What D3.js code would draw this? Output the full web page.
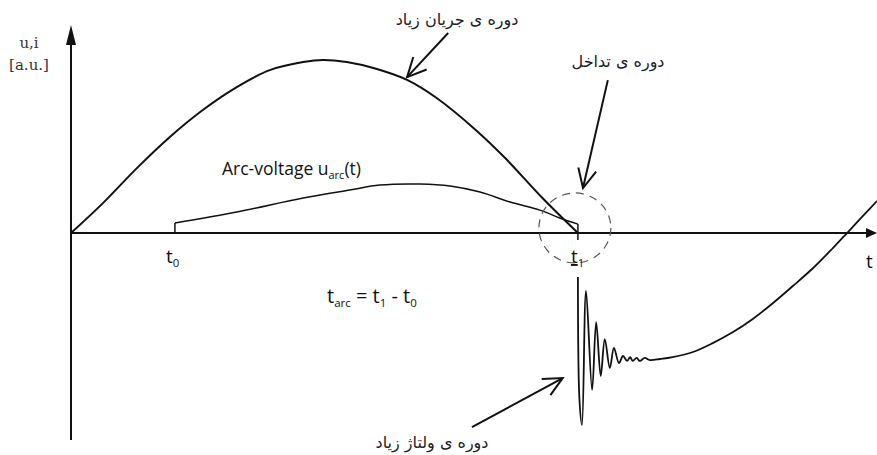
<!DOCTYPE html>
<html><head><meta charset="utf-8">
<script src="https://cdn.jsdelivr.net/npm/d3@7"></script>
<style>
html,body{margin:0;padding:0;background:#fff;}
svg{display:block;}
</style></head>
<body>
<svg id="chart" width="877" height="455"></svg>
<script>
// ---- data (time in a.u., t1 = 1; amplitude in a.u.) ----
const currentT = [0,0.063,0.130,0.195,0.260,0.327,0.392,0.458,0.497,0.544,0.600,0.663,0.722,0.800,0.856,0.930,1.0];
const currentV = [0,0.171,0.371,0.549,0.703,0.834,0.931,0.977,0.989,0.977,0.940,0.875,0.770,0.585,0.430,0.200,0];

const arcT = [0.205,0.205,0.327,0.458,0.550,0.609,0.688,0.748,0.807,0.866,0.925,0.964,1.0,1.0];
const arcV = [0,0.057,0.12,0.20,0.246,0.274,0.28,0.269,0.234,0.177,0.131,0.086,0.051,0];

const recT = [1.000,1.003,1.008,1.016,1.028,1.036,1.045,1.053,1.063,1.071,1.081,1.089,1.097,1.103,1.108,1.116,1.122,1.132,1.142,1.162,1.187,1.227,1.266,1.306,1.345,1.385,1.424,1.464,1.503,1.531,1.566,1.590];
const recV = [-0.251,-0.95,-1.097,-0.331,-0.897,-0.509,-0.817,-0.606,-0.771,-0.657,-0.743,-0.703,-0.731,-0.709,-0.731,-0.714,-0.731,-0.714,-0.726,-0.72,-0.709,-0.68,-0.629,-0.566,-0.491,-0.40,-0.303,-0.20,-0.086,0,0.109,0.183];

const t0 = 0.205, t1 = 1.0;
const xDomain = [0, 1.59];
const yDomain = [-1.183, 1.189];

const svg = d3.select("#chart");
const x = d3.scaleLinear().domain(xDomain).range([71, 877]);
const y = d3.scaleLinear().domain(yDomain).range([440, 25]);

const ink = "#111";

// ---- axes ----
const axes = svg.append("g");
axes.append("line").attr("x1", x(0)).attr("x2", x(0)).attr("y1", y(yDomain[0])).attr("y2", y(yDomain[1]) + 12)
  .attr("stroke", ink).attr("stroke-width", 2);
axes.append("path").attr("d", `M${x(0)},${y(yDomain[1])}L${x(0)-5},${y(yDomain[1])+20}L${x(0)+5},${y(yDomain[1])+20}Z`).attr("fill", ink);
axes.append("line").attr("x1", x(0)).attr("x2", x(xDomain[1]) - 6).attr("y1", y(0)).attr("y2", y(0))
  .attr("stroke", ink).attr("stroke-width", 2);
axes.append("path").attr("d", `M${x(xDomain[1])},${y(0)}L${x(xDomain[1])-11},${y(0)-5}L${x(xDomain[1])-11},${y(0)+5}Z`).attr("fill", ink);

const smooth = d3.line().x(d => x(d[0])).y(d => y(d[1])).curve(d3.curveCatmullRom.alpha(0.5));
const lin = d3.line().x(d => x(d[0])).y(d => y(d[1]));

// ---- current ----
svg.append("path").datum(d3.zip(currentT, currentV))
  .attr("d", smooth).attr("fill", "none").attr("stroke", ink).attr("stroke-width", 2);

// ---- arc voltage ----
const arcPts = d3.zip(arcT, arcV);
svg.append("path").datum(arcPts.slice(1, arcPts.length - 1))
  .attr("d", smooth).attr("fill", "none").attr("stroke", ink).attr("stroke-width", 1.5);
svg.append("path").datum(arcPts.slice(0, 2)).attr("d", lin).attr("stroke", ink).attr("stroke-width", 1.5);
svg.append("path").datum(arcPts.slice(arcPts.length - 2)).attr("d", lin).attr("stroke", ink).attr("stroke-width", 1.5);
svg.append("line").attr("x1", x(t1)).attr("x2", x(t1)).attr("y1", y(0)).attr("y2", y(0) + 7).attr("stroke", ink).attr("stroke-width", 1.5);

// ---- recovery voltage ----
svg.append("path").datum(d3.zip(recT, recV))
  .attr("d", smooth).attr("fill", "none").attr("stroke", ink).attr("stroke-width", 1.8);

// ---- dashed circle at t1 ----
const circC = [0.994, 0.029], circR = [0.071, 0.2];
svg.append("ellipse").attr("cx", x(circC[0])).attr("cy", y(circC[1]))
  .attr("rx", x(circR[0]) - x(0)).attr("ry", y(0) - y(circR[1]))
  .attr("fill", "none").attr("stroke", "#555").attr("stroke-width", 1.2).attr("stroke-dasharray", "8,6");

// ---- annotation arrows (data units) ----
const arrows = [
  [[0.744, 1.143], [0.663, 0.891]],
  [[1.059, 0.874], [1.010, 0.257]],
  [[0.791, -1.109], [0.970, -0.829]]
];
arrows.forEach(([a, b]) => {
  const x1 = x(a[0]), y1 = y(a[1]), x2 = x(b[0]), y2 = y(b[1]);
  const ang = Math.atan2(y2 - y1, x2 - x1), L = 21, w = 0.45;
  svg.append("line").attr("x1", x1).attr("y1", y1).attr("x2", x2).attr("y2", y2).attr("stroke", ink).attr("stroke-width", 2);
  svg.append("path")
    .attr("d", `M${x2 - L*Math.cos(ang - w)},${y2 - L*Math.sin(ang - w)}L${x2},${y2}L${x2 - L*Math.cos(ang + w)},${y2 - L*Math.sin(ang + w)}`)
    .attr("fill", "none").attr("stroke", ink).attr("stroke-width", 2).attr("stroke-linejoin", "miter");
});

// ---- texts ----
const serif = "'DejaVu Serif', 'Liberation Serif', serif";
const sans = "'Open Sans', 'Noto Sans', sans-serif";
const fa = "'DejaVu Sans', sans-serif";
svg.append("text").attr("x", 29).attr("y", 48).attr("text-anchor", "middle").attr("font-family", serif).attr("font-size", 15).attr("fill", "#333").text("u,i");
svg.append("text").attr("x", 29).attr("y", 70).attr("text-anchor", "middle").attr("font-family", serif).attr("font-size", 15).attr("fill", "#333").text("[a.u.]");

const arcLbl = svg.append("text").attr("x", 222).attr("y", 175).attr("font-family", sans).attr("font-size", 17.5).attr("fill", ink);
arcLbl.append("tspan").text("Arc-voltage u");
arcLbl.append("tspan").attr("font-size", 11).attr("dy", 4).text("arc");
arcLbl.append("tspan").attr("dy", -4).text("(t)");

function sub(xp, yp, main, s, size) {
  const t = svg.append("text").attr("x", xp).attr("y", yp).attr("font-family", sans).attr("font-size", size).attr("fill", ink);
  t.append("tspan").text(main);
  t.append("tspan").attr("font-size", size * 0.6).attr("dy", 4).text(s);
  return t;
}
sub(x(t0) - 9, 263, "t", "0", 19);
const t1l = sub(x(t1) - 7, 263, "t", "1", 19);
t1l.select("tspan").attr("text-decoration", "underline");
svg.append("text").attr("x", 866).attr("y", 268).attr("font-family", sans).attr("font-size", 19).attr("fill", ink).text("t");

const f = svg.append("text").attr("x", 327).attr("y", 303).attr("font-family", sans).attr("font-size", 20).attr("fill", ink);
f.append("tspan").text("t");
f.append("tspan").attr("font-size", 11.5).attr("dy", 4).text("arc");
f.append("tspan").attr("dy", -4).text(" = t");
f.append("tspan").attr("font-size", 11.5).attr("dy", 4).text("1");
f.append("tspan").attr("dy", -4).text(" - t");
f.append("tspan").attr("font-size", 11.5).attr("dy", 4).text("0");

const faStyle = s => s.attr("font-family", fa).attr("font-size", 16).attr("fill", "#1c1c2a").attr("text-anchor", "middle").attr("direction", "rtl");
faStyle(svg.append("text").attr("x", 457).attr("y", 25)).text("دوره ی جریان زیاد");
faStyle(svg.append("text").attr("x", 618).attr("y", 67)).text("دوره ی تداخل");
faStyle(svg.append("text").attr("x", 432).attr("y", 448)).text("دوره ی ولتاژ زیاد");
</script>
</body></html>
